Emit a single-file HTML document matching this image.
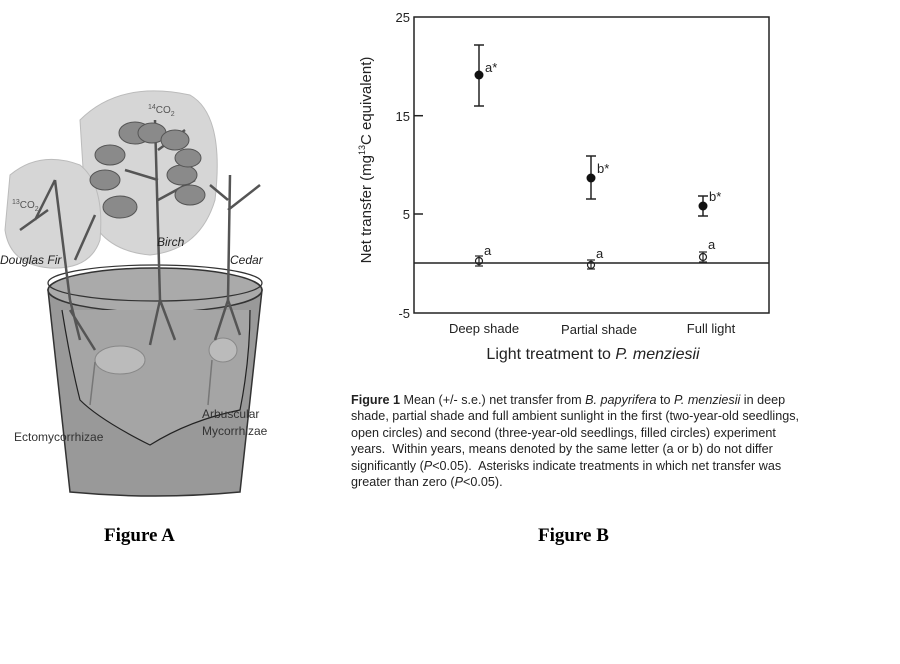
<!DOCTYPE html>
<html><head><style>
body{margin:0;background:#fff;width:900px;height:664px;overflow:hidden;position:relative;font-family:"Liberation Sans",sans-serif}
.t{position:absolute;white-space:nowrap}
</style></head><body>
<svg width="900" height="664" style="position:absolute;left:0;top:0" font-family="Liberation Sans, sans-serif">
<path d="M80,120 Q120,80 190,95 Q225,115 215,200 Q200,250 150,255 Q95,250 85,200 Z" fill="#d6d6d6" stroke="#bbb"/>
<path d="M10,175 Q40,150 80,165 Q105,185 100,240 Q90,270 50,268 Q10,265 5,230 Z" fill="#d6d6d6" stroke="#bbb"/>
<path d="M48,290 L262,290 L240,492 Q155,500 70,492 Z" fill="#999" stroke="#333" stroke-width="1.5"/>
<ellipse cx="155" cy="290" rx="107" ry="22" fill="#aaa" stroke="#333" stroke-width="1.5"/>
<ellipse cx="155" cy="283" rx="107" ry="18" fill="none" stroke="#333" stroke-width="1.2"/>
<path d="M62,310 Q70,360 80,400 Q100,420 150,445 Q190,420 240,410 Q250,360 250,310" fill="#a5a5a5" stroke="#222" stroke-width="1.2"/>
<ellipse cx="120" cy="360" rx="25" ry="14" fill="#bbb" stroke="#888"/>
<ellipse cx="223" cy="350" rx="14" ry="12" fill="#bbb" stroke="#888"/>
<g stroke="#555" stroke-width="2.5" fill="none">
<path d="M55,180 L70,300 M55,180 L35,220 M48,210 L20,230 M95,215 L75,260"/>
<path d="M155,120 L160,300 M158,180 L125,170 M158,200 L195,180 M158,150 L185,130"/>
<path d="M230,175 L228,300 M228,210 L260,185 M228,200 L210,185"/>
<path d="M70,300 L80,340 M70,310 L95,350 M160,300 L150,345 M160,300 L175,340 M228,300 L215,340 M228,300 L240,335"/>
</g>
<g fill="#8a8a8a" stroke="#555">
<ellipse cx="135" cy="133" rx="16" ry="11"/><ellipse cx="152" cy="133" rx="14" ry="10"/><ellipse cx="110" cy="155" rx="15" ry="10"/>
<ellipse cx="182" cy="175" rx="15" ry="10"/><ellipse cx="190" cy="195" rx="15" ry="10"/><ellipse cx="105" cy="180" rx="15" ry="10"/><ellipse cx="120" cy="207" rx="17" ry="11"/>
<ellipse cx="175" cy="140" rx="14" ry="10"/><ellipse cx="188" cy="158" rx="13" ry="9"/>
</g>
<path d="M90,405 L95,362 M208,405 L212,360" stroke="#777" stroke-width="1.5"/>
<text x="148" y="113" font-size="10" fill="#555"><tspan font-size="7" dy="-4">14</tspan><tspan dy="4">CO</tspan><tspan font-size="7" dy="3">2</tspan></text>
<text x="12" y="208" font-size="10" fill="#555"><tspan font-size="7" dy="-4">13</tspan><tspan dy="4">CO</tspan><tspan font-size="7" dy="3">2</tspan></text>
<text x="157" y="246" font-size="12" font-style="italic" fill="#222">Birch</text>
<text x="0" y="264" font-size="12" font-style="italic" fill="#222">Douglas Fir</text>
<text x="230" y="264" font-size="12" font-style="italic" fill="#222">Cedar</text>
<text x="14" y="441" font-size="12" fill="#333">Ectomycorrhizae</text>
<text x="202" y="418" font-size="12" fill="#333">Arbuscular</text>
<text x="202" y="435" font-size="12" fill="#333">Mycorrhizae</text>
<rect x="414" y="17" width="355" height="296" fill="none" stroke="#222" stroke-width="1.5"/>
<line x1="414" y1="263" x2="769" y2="263" stroke="#222" stroke-width="1.5"/>
<g stroke="#222" stroke-width="1.5">
<line x1="414" y1="115.7" x2="423" y2="115.7"/><line x1="414" y1="214" x2="423" y2="214"/>
<line x1="479" y1="45" x2="479" y2="106"/><line x1="474" y1="45" x2="484" y2="45"/><line x1="474" y1="106" x2="484" y2="106"/>
<line x1="591" y1="156" x2="591" y2="199"/><line x1="586" y1="156" x2="596" y2="156"/><line x1="586" y1="199" x2="596" y2="199"/>
<line x1="703" y1="196" x2="703" y2="216"/><line x1="698" y1="196" x2="708" y2="196"/><line x1="698" y1="216" x2="708" y2="216"/>
</g>
<circle cx="479" cy="75" r="4.5" fill="#111"/><circle cx="591" cy="178" r="4.5" fill="#111"/><circle cx="703" cy="206" r="4.5" fill="#111"/>
<g fill="none" stroke="#222" stroke-width="1.2">
<circle cx="479" cy="261" r="3.5"/><line x1="475" y1="256" x2="483" y2="256"/><line x1="475" y1="266" x2="483" y2="266"/><line x1="479" y1="256" x2="479" y2="266"/>
<circle cx="591" cy="265" r="3.5"/><line x1="587" y1="260" x2="595" y2="260"/><line x1="587" y1="269" x2="595" y2="269"/><line x1="591" y1="260" x2="591" y2="269"/>
<circle cx="703" cy="257" r="3.5"/><line x1="699" y1="252" x2="707" y2="252"/><line x1="699" y1="262" x2="707" y2="262"/><line x1="703" y1="252" x2="703" y2="262"/>
</g>
<g font-size="13" fill="#222">
<text x="485" y="72">a*</text><text x="597" y="173">b*</text><text x="709" y="201">b*</text>
<text x="484" y="255">a</text><text x="596" y="258">a</text><text x="708" y="249">a</text>
<text x="410" y="22" text-anchor="end">25</text><text x="410" y="121" text-anchor="end">15</text>
<text x="410" y="219" text-anchor="end">5</text><text x="410" y="318" text-anchor="end">-5</text>
<text x="484" y="333" text-anchor="middle">Deep shade</text><text x="599" y="334" text-anchor="middle">Partial shade</text><text x="711" y="333" text-anchor="middle">Full light</text>
</g>
<text x="593" y="359" font-size="16" fill="#222" text-anchor="middle">Light treatment to <tspan font-style="italic">P. menziesii</tspan></text>
<text transform="translate(371,160) rotate(-90)" font-size="15" fill="#222" text-anchor="middle">Net transfer (mg<tspan font-size="9" dy="-6">13</tspan><tspan dy="6">C equivalent)</tspan></text>
</svg>
<div class="t" style="left:351px;top:392px;font-size:12.6px;line-height:16.4px;color:#222"><b>Figure 1</b> Mean (+/- s.e.) net transfer from <i>B. papyrifera</i> to <i>P. menziesii</i> in deep<br>shade, partial shade and full ambient sunlight in the first (two-year-old seedlings,<br>open circles) and second (three-year-old seedlings, filled circles) experiment<br>years.&nbsp; Within years, means denoted by the same letter (a or b) do not differ<br>significantly (<i>P</i>&lt;0.05).&nbsp; Asterisks indicate treatments in which net transfer was<br>greater than zero (<i>P</i>&lt;0.05).</div>
<div class="t" style="left:104px;top:525px;font:bold 19px 'Liberation Serif',serif">Figure A</div>
<div class="t" style="left:538px;top:525px;font:bold 19px 'Liberation Serif',serif">Figure B</div>
</body></html>
